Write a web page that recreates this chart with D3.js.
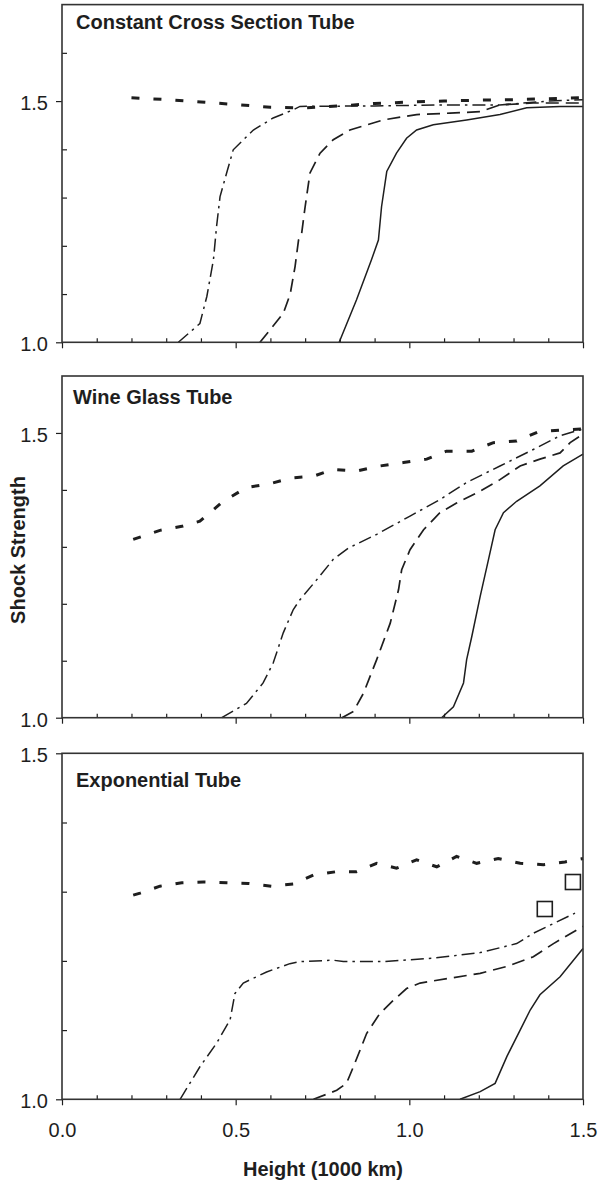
<!DOCTYPE html>
<html>
<head>
<meta charset="utf-8">
<script src="https://cdn.jsdelivr.net/npm/d3@7"></script>
<style>
  body { margin: 0; background: #fff; }
  svg { display: block; font-family: "Liberation Sans", Arial, sans-serif; }
</style>
</head>
<body>
<div id="chart"></div>
<script>
// Valores: [altura (1000 km), intensidad del choque]
const TITLES = ["Constant Cross Section Tube", "Wine Glass Tube", "Exponential Tube"];
const X_TICKS = [0, 0.5, 1.0, 1.5];

// Tubo de seccion constante
const csSolid = [[0.798,1.0],[0.848,1.088],[0.891,1.171],[0.911,1.212],[0.92,1.281],[0.935,1.354],[0.963,1.392],[0.992,1.423],[1.021,1.44],[1.069,1.451],[1.165,1.461],[1.261,1.472],[1.338,1.486],[1.434,1.489],[1.5,1.489]];
const csDash = [[0.57,1.0],[0.637,1.06],[0.657,1.10],[0.671,1.157],[0.681,1.212],[0.69,1.226],[0.7,1.281],[0.714,1.351],[0.743,1.392],[0.781,1.42],[0.829,1.44],[0.925,1.461],[1.021,1.472],[1.117,1.475],[1.204,1.478],[1.261,1.492],[1.357,1.496],[1.5,1.496]];
const csDashDot = [[0.335,1.0],[0.397,1.039],[0.417,1.095],[0.436,1.171],[0.445,1.24],[0.455,1.302],[0.474,1.351],[0.493,1.399],[0.551,1.44],[0.608,1.465],[0.666,1.482],[0.685,1.489],[0.9,1.49],[1.1,1.492],[1.26,1.492],[1.4,1.5],[1.5,1.503]];
const csDotted = [[0.2,1.507],[0.3,1.503],[0.4,1.498],[0.5,1.493],[0.6,1.487],[0.7,1.486],[0.8,1.49],[0.9,1.495],[1.0,1.498],[1.1,1.5],[1.2,1.502],[1.3,1.503],[1.4,1.505],[1.5,1.507]];

// Tubo copa de vino
const wgSolid = [[1.093,1.0],[1.127,1.019],[1.156,1.061],[1.165,1.102],[1.18,1.143],[1.204,1.213],[1.228,1.278],[1.247,1.33],[1.271,1.36],[1.309,1.38],[1.376,1.407],[1.443,1.442],[1.5,1.463]];
const wgDash = [[0.806,1.0],[0.839,1.011],[0.868,1.043],[0.906,1.102],[0.945,1.166],[0.969,1.225],[0.978,1.26],[1.002,1.295],[1.041,1.33],[1.088,1.36],[1.136,1.377],[1.204,1.398],[1.261,1.418],[1.319,1.442],[1.376,1.454],[1.434,1.465],[1.463,1.483],[1.5,1.498]];
const wgDashDot = [[0.46,1.0],[0.531,1.025],[0.579,1.061],[0.608,1.096],[0.637,1.149],[0.666,1.19],[0.685,1.207],[0.733,1.242],[0.781,1.278],[0.825,1.298],[0.906,1.322],[1.002,1.354],[1.088,1.383],[1.165,1.413],[1.261,1.442],[1.357,1.471],[1.434,1.495],[1.5,1.507]];
const wgDotted = [[0.205,1.313],[0.282,1.329],[0.345,1.336],[0.397,1.345],[0.464,1.38],[0.531,1.404],[0.599,1.411],[0.661,1.421],[0.724,1.424],[0.781,1.436],[0.848,1.433],[0.915,1.442],[0.983,1.448],[1.05,1.454],[1.107,1.468],[1.18,1.468],[1.242,1.483],[1.309,1.486],[1.371,1.502],[1.434,1.505],[1.5,1.507]];

// Tubo exponencial
const exSolid = [[1.146,1.0],[1.204,1.011],[1.247,1.023],[1.281,1.062],[1.319,1.1],[1.348,1.129],[1.376,1.151],[1.434,1.177],[1.5,1.218]];
const exDash = [[0.724,1.0],[0.791,1.013],[0.819,1.023],[0.839,1.047],[0.877,1.095],[0.915,1.124],[0.954,1.143],[0.992,1.16],[1.031,1.168],[1.117,1.175],[1.204,1.182],[1.281,1.192],[1.357,1.206],[1.415,1.225],[1.5,1.25]];
const exDashDot = [[0.34,1.0],[0.397,1.047],[0.445,1.081],[0.484,1.115],[0.498,1.153],[0.522,1.168],[0.589,1.184],[0.656,1.196],[0.685,1.199],[0.781,1.201],[0.81,1.199],[0.925,1.199],[1.069,1.204],[1.204,1.212],[1.309,1.225],[1.357,1.24],[1.415,1.254],[1.477,1.269]];
const exDotted = [[0.205,1.295],[0.225,1.298],[0.282,1.308],[0.345,1.313],[0.407,1.314],[0.474,1.313],[0.536,1.312],[0.603,1.308],[0.666,1.311],[0.724,1.324],[0.791,1.329],[0.848,1.329],[0.906,1.341],[0.963,1.334],[1.021,1.346],[1.079,1.336],[1.136,1.351],[1.194,1.341],[1.256,1.348],[1.319,1.341],[1.386,1.339],[1.448,1.343],[1.5,1.348]];
const exSquares = [[1.39,1.275],[1.471,1.314]];

// Dimensiones del SVG
const WIDTH = 599;
const HEIGHT = 1182;
const INK = "#1e1e1e";

const svg = d3.select("#chart").append("svg")
    .attr("width", WIDTH)
    .attr("height", HEIGHT);

svg.append("rect").attr("width", WIDTH).attr("height", HEIGHT).attr("fill", "white");

// Escala horizontal comun a los tres paneles
const x = d3.scaleLinear().domain([0, 1.5]).range([62, 583]);

// Estilos de las cuatro curvas
const styles = {
    solid:   { width: 1.5, dash: null },
    dash:    { width: 1.7, dash: "13,7" },
    dashDot: { width: 1.5, dash: "13,5,2.5,5" },
    dotted:  { width: 3, dash: "8,14" }
};

// Un objeto por panel (posicion + series)
const panels = [
    { title: TITLES[0], top: 4.6, bottom: 342.3, yMax: 1.7, titleX: 76, titleY: 29,
      series: { solid: csSolid, dash: csDash, dashDot: csDashDot, dotted: csDotted } },
    { title: TITLES[1], top: 376, bottom: 717.7, yMax: 1.6, titleX: 73, titleY: 404,
      series: { solid: wgSolid, dash: wgDash, dashDot: wgDashDot, dotted: wgDotted } },
    { title: TITLES[2], top: 753.3, bottom: 1099.3, yMax: 1.5, titleX: 76, titleY: 787,
      series: { solid: exSolid, dash: exDash, dashDot: exDashDot, dotted: exDotted },
      squares: exSquares, xLabels: true }
];

panels.forEach(p => {
    const y = d3.scaleLinear().domain([1.0, p.yMax]).range([p.bottom, p.top]);
    const g = svg.append("g");

    // Ticks menores hacia adentro
    const minorX = d3.range(1, 15).map(d => d / 10).filter(d => d % 0.5 > 0.01 && d % 0.5 < 0.49);
    const minorY = d3.range(11, Math.round(p.yMax * 10)).map(d => d / 10).filter(d => Math.abs(d - 1.5) > 0.01);

    g.append("g")
        .attr("transform", `translate(0,${p.bottom})`)
        .call(d3.axisBottom(x).tickValues(minorX).tickSize(-4).tickFormat(""))
        .call(a => a.select(".domain").remove());

    g.append("g")
        .attr("transform", `translate(${x(0)},0)`)
        .call(d3.axisLeft(y).tickValues(minorY).tickSize(-5).tickFormat(""))
        .call(a => a.select(".domain").remove());

    // Ticks mayores hacia afuera
    const xAxis = g.append("g")
        .attr("transform", `translate(0,${p.bottom})`)
        .call(d3.axisBottom(x).tickValues(X_TICKS).tickSize(6).tickPadding(18)
            .tickFormat(p.xLabels ? d3.format(".1f") : ""));
    xAxis.select(".domain").remove();

    const yAxis = g.append("g")
        .attr("transform", `translate(${x(0)},0)`)
        .call(d3.axisLeft(y).tickValues([1.0, 1.5]).tickSize(6).tickPadding(8).tickFormat(d3.format(".1f")));
    yAxis.select(".domain").remove();

    g.selectAll(".tick line").attr("stroke", INK).attr("stroke-width", 1.2);
    g.selectAll(".tick text")
        .attr("fill", INK)
        .style("font-size", "20px")
        .style("font-family", "'Liberation Sans', Arial, sans-serif");
    yAxis.selectAll(".tick text").attr("dy", "0.42em");

    // Curvas
    const line = d3.line().x(d => x(d[0])).y(d => y(d[1]));
    ["dotted", "dashDot", "dash", "solid"].forEach(k => {
        g.append("path")
            .datum(p.series[k])
            .attr("d", line)
            .attr("fill", "none")
            .attr("stroke", INK)
            .attr("stroke-width", styles[k].width)
            .attr("stroke-dasharray", styles[k].dash);
    });

    // Cuadrados (solo en el panel exponencial)
    if (p.squares) {
        g.selectAll("rect.sq")
            .data(p.squares)
            .enter().append("rect")
            .attr("class", "sq")
            .attr("x", d => x(d[0]) - 7.5)
            .attr("y", d => y(d[1]) - 7.5)
            .attr("width", 15)
            .attr("height", 15)
            .attr("fill", "white")
            .attr("stroke", INK)
            .attr("stroke-width", 1.6);
    }

    // Marco del panel
    g.append("rect")
        .attr("x", x(0))
        .attr("y", p.top)
        .attr("width", x(1.5) - x(0))
        .attr("height", p.bottom - p.top)
        .attr("fill", "none")
        .attr("stroke", "#333")
        .attr("stroke-width", 1.6);

    // Titulo del panel
    g.append("text")
        .attr("x", p.titleX)
        .attr("y", p.titleY)
        .attr("fill", INK)
        .style("font-size", "20px")
        .style("font-weight", "bold")
        .text(p.title);
});

// Titulos de los ejes
svg.append("text")
    .attr("transform", "translate(25,550) rotate(-90)")
    .attr("text-anchor", "middle")
    .attr("fill", INK)
    .style("font-size", "20px")
    .style("font-weight", "bold")
    .text("Shock Strength");

svg.append("text")
    .attr("x", 323)
    .attr("y", 1176)
    .attr("text-anchor", "middle")
    .attr("fill", INK)
    .style("font-size", "20px")
    .style("font-weight", "bold")
    .text("Height (1000 km)");
</script>
</body>
</html>
